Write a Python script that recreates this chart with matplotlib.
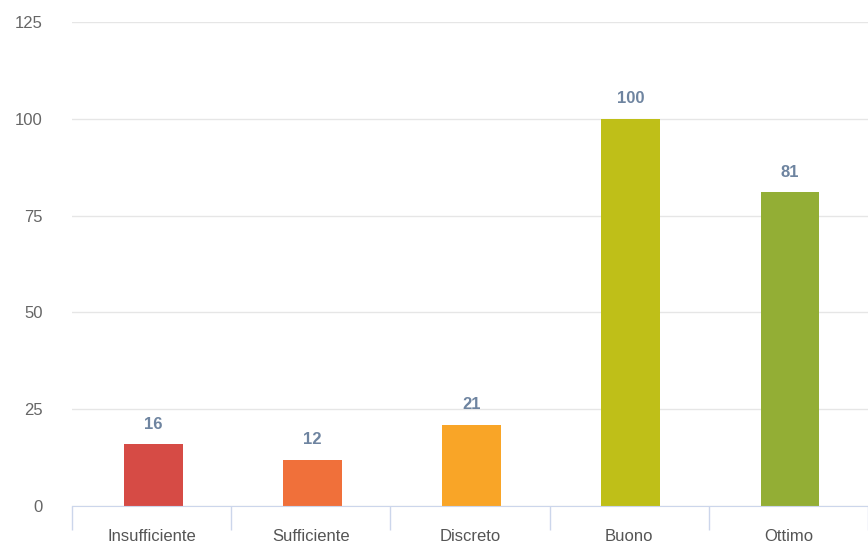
import matplotlib.pyplot as plt
import numpy as np

categories = ['Insufficiente', 'Sufficiente', 'Discreto', 'Buono', 'Ottimo']
values = [16, 12, 21, 100, 81]
colors = ['#d64b45', '#f0703a', '#f9a527', '#bfbf18', '#93ae35']
yticks = [0, 25, 50, 75, 100, 125]

plt.rcParams['font.family'] = ['Liberation Sans', 'DejaVu Sans']

fig = plt.figure(figsize=(8.68, 5.45), dpi=100)
ax = fig.add_axes([72 / 868, 39 / 545, 1 - 72 / 868, 484 / 545])

x = np.arange(len(categories))
ax.bar(x + 0.01, values, width=0.37, color=colors, zorder=3)

for xi, v in zip(x, values):
    ax.annotate(str(v), (xi + 0.01, v), xytext=(0, 9), textcoords='offset points',
                ha='center', va='bottom', fontsize=12, fontweight='bold',
                color='#6e84a0')

ax.set_xlim(-0.5, len(categories) - 0.5)
ax.set_ylim(0, 125)
ax.set_yticks(yticks)
ax.yaxis.grid(True, color='#e6e6e6', linewidth=1, zorder=0)
ax.tick_params(axis='y', length=0, pad=21, labelsize=12, labelcolor='#666666')

ax.set_xticks(x)
ax.set_xticklabels(categories)
ax.set_xticks(np.arange(len(categories) + 1) - 0.5, minor=True)
ax.tick_params(axis='x', which='major', length=0, pad=16.5, labelsize=12,
               labelcolor='#555555')
ax.tick_params(axis='x', which='minor', length=17, width=1, color='#ccd6eb')

for side in ['top', 'right', 'left']:
    ax.spines[side].set_visible(False)
ax.spines['bottom'].set_color('#ccd6eb')
ax.spines['bottom'].set_zorder(4)

fig.savefig('out.png', dpi=100)
